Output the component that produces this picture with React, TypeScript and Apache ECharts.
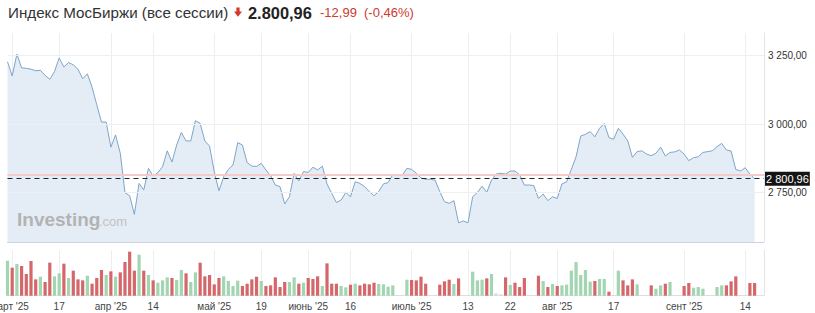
import { useEffect, useRef } from 'react';
import * as echarts from 'echarts';

// ---- Data ----
const closes: number[] = [
  3228, 3176, 3256, 3206, 3204, 3201, 3195, 3197, 3178, 3164,
  3192, 3242, 3209, 3225, 3217, 3201, 3166, 3184, 3135, 3071,
  3008, 3008, 2916, 2961, 2894, 2750, 2739, 2671, 2784, 2760,
  2839, 2811, 2823, 2845, 2903, 2862, 2924, 2970, 2939, 2939,
  3013, 3003, 2939, 2920, 2827, 2757, 2808, 2835, 2851, 2933,
  2924, 2860, 2847, 2846, 2857, 2833, 2812, 2778, 2772, 2709,
  2735, 2821, 2793, 2827, 2824, 2843, 2833, 2847, 2782, 2748,
  2714, 2723, 2751, 2735, 2790, 2784, 2772, 2754, 2739, 2754,
  2782, 2787, 2816, 2816, 2813, 2839, 2835, 2821, 2804, 2799,
  2799, 2796, 2754, 2717, 2711, 2721, 2640, 2647, 2640, 2735,
  2751, 2774, 2751, 2796, 2818, 2821, 2818, 2829, 2829, 2815,
  2778, 2778, 2776, 2729, 2745, 2721, 2735, 2729, 2782, 2790,
  2835, 2881, 2957, 2963, 2973, 2954, 2985, 3003, 2951, 2945,
  2985, 2964, 2939, 2879, 2900, 2903, 2891, 2885, 2894, 2916,
  2884, 2897, 2899, 2906, 2891, 2867, 2878, 2881, 2897, 2900,
  2903, 2918, 2930, 2906, 2902, 2835, 2829, 2841, 2818, 2800.96,
];

const volumes: number[] = [
  105, 84, 95, 89, 65, 104, 49, 57, 41, 99,
  58, 67, 96, 53, 75, 49, 46, 60, 36, 53,
  77, 62, 73, 57, 70, 101, 132, 75, 123, 75,
  62, 46, 39, 46, 55, 53, 47, 77, 67, 41,
  70, 99, 58, 62, 34, 53, 58, 44, 29, 45,
  29, 36, 49, 57, 44, 29, 31, 55, 26, 41,
  41, 55, 36, 39, 53, 50, 58, 29, 97, 36,
  36, 29, 25, 33, 36, 31, 36, 34, 39, 35,
  34, 27, 31, 2, 2, 48, 47, 46, 57, 36,
  1, 2, 33, 43, 48, 35, 52, 2, 2, 72,
  46, 48, 52, 65, 7, 4, 55, 32, 39, 26,
  53, 2, 2, 60, 44, 26, 35, 29, 31, 33,
  75, 101, 62, 77, 42, 44, 50, 50, 12, 2,
  75, 46, 31, 49, 34, 2, 2, 31, 21, 31,
  36, 41, 2, 2, 29, 38, 24, 26, 21, 2,
  2, 26, 31, 31, 43, 58, 2, 2, 38, 38,
];

// u = up (green), d = down (red), n = neutral (grey)
const volumeDir: string[] = [
  'u','d','u','d','d','d','d','u','d','d',
  'u','u','d','u','d','d','d','u','d','d',
  'd','u','d','u','d','d','d','d','u','d',
  'u','d','u','u','u','d','u','u','d','u',
  'u','d','d','d','d','d','u','u','u','u',
  'd','d','d','d','u','d','d','d','d','d',
  'u','u','d','u','d','d','d','u','d','d',
  'd','u','u','d','u','d','d','d','d','u',
  'u','u','u','n','n','u','d','d','d','d',
  'n','n','d','d','d','u','d','n','n','u',
  'u','u','d','u','n','n','d','u','d','d',
  'd','n','n','d','u','d','u','d','u','u',
  'u','u','u','u','u','d','u','u','d','n',
  'u','d','d','d','u','n','n','d','u','u',
  'd','u','n','n','d','d','u','u','u','n',
  'n','u','u','d','d','d','n','n','d','d',
];

const tickIndex: number[] = [1, 11, 22, 31, 44, 54, 64, 73, 86, 98, 107, 117, 129, 144, 157];
const tickLabels: string[] = [
  "март '25", '17', "апр '25", '14', "май '25", '19', "июнь '25", '16',
  "июль '25", '13', '22', "авг '25", '17', "сент '25", '14',
];
const yTicks: number[] = [2750, 3000, 3250];

const lastClose = 2800.96;
const prevClose = 2813.95;
const titleText = 'Индекс МосБиржи (все сессии)';
const priceText = '2.800,96';
const changeText = '-12,99';
const changePctText = '(-0,46%)';

const FONT = '"Liberation Sans", Arial, Helvetica, sans-serif';
const EXTRA_SLOTS = 2;

const fmtRu = (v: number) => {
  const [i, d] = v.toFixed(2).split('.');
  return i.replace(/\B(?=(\d{3})+(?!\d))/g, ' ') + ',' + d;
};

export default function App() {
  const ref = useRef<HTMLDivElement>(null);

  useEffect(() => {
    if (!ref.current) return;
    const chart = echarts.init(ref.current, undefined, { renderer: 'svg' });

    const categories = [
      ...closes.map((_, i) => 'd' + i),
      ...Array.from({ length: EXTRA_SLOTS }, (_, i) => 'x' + i),
    ];
    const tickMap = new Map<number, string>(tickIndex.map((t, k) => [t, tickLabels[k]]));
    const isTick = (i: number) => tickMap.has(i);
    const firstTick = tickIndex[0];

    const colorOf = (d: string) => (d === 'u' ? '#a2d5b1' : d === 'd' ? '#d4676a' : '#d9d9d9');

    const gridLeft = 7.5;
    const gridRight = 51;

    chart.setOption({
      animation: false,
      textStyle: { fontFamily: FONT },
      grid: [
        { left: gridLeft, right: gridRight, top: 33, height: 209, outerBoundsMode: 'none', containLabel: false },
        { left: gridLeft, right: gridRight, top: 250, height: 45.7, outerBoundsMode: 'none', containLabel: false },
      ],
      xAxis: [
        {
          type: 'category',
          gridIndex: 0,
          data: categories,
          boundaryGap: false,
          axisLine: { show: true, lineStyle: { color: '#c9d4df', width: 1 } },
          axisTick: { show: false },
          axisLabel: { show: false },
          splitLine: { show: true, interval: (i: number) => isTick(i), lineStyle: { color: '#eeeeee' } },
        },
        {
          type: 'category',
          gridIndex: 1,
          data: categories,
          boundaryGap: false,
          axisLine: { show: true, lineStyle: { color: '#e2e2e2', width: 1 } },
          axisTick: { show: false },
          axisLabel: {
            show: true,
            interval: (i: number) => isTick(i),
            formatter: (_v: string, i: number) => {
              const t = tickMap.get(i) ?? '';
              return i === firstTick ? `{first|${t}}` : t;
            },
            rich: {
              first: { fontSize: 10, color: '#444', fontFamily: FONT, padding: [0, 5, 0, 0] },
            },
            fontSize: 10,
            color: '#444',
            margin: 6,
            fontFamily: FONT,
            hideOverlap: false,
          },
          splitLine: { show: true, interval: (i: number) => isTick(i), lineStyle: { color: '#eeeeee' } },
        },
      ],
      yAxis: [
        {
          type: 'value',
          gridIndex: 0,
          position: 'right',
          min: 2570,
          max: 3333,
          scale: true,
          axisLine: { show: true, lineStyle: { color: '#e4e4e4' } },
          axisTick: { show: false },
          splitLine: { show: false },
          axisLabel: {
            customValues: yTicks,
            formatter: (v: number) => fmtRu(v),
            fontSize: 10,
            color: '#333',
            margin: 4,
            fontFamily: FONT,
          },
        },
        {
          type: 'value',
          gridIndex: 1,
          position: 'right',
          min: 0,
          max: 137,
          axisLine: { show: true, lineStyle: { color: '#e4e4e4' } },
          axisTick: { show: false },
          splitLine: { show: false },
          axisLabel: { show: false },
        },
      ],
      series: [
        {
          type: 'line',
          xAxisIndex: 0,
          yAxisIndex: 0,
          data: closes,
          symbol: 'none',
          lineStyle: { color: '#7ea5c8', width: 1 },
          areaStyle: { color: '#e4edf6', origin: 'start', opacity: 1 },
          z: 2,
          markLine: {
            symbol: 'none',
            silent: true,
            animation: false,
            data: [
              ...yTicks.map((t) => ({
                yAxis: t,
                lineStyle: { color: '#edf0f3', width: 1, type: 'solid' },
                label: { show: false },
              })),
              {
                yAxis: prevClose,
                lineStyle: { color: '#f5caca', width: 2, type: 'solid' },
                label: { show: false },
              },
              {
                yAxis: lastClose,
                lineStyle: { color: '#222', width: 1, type: [5, 4] },
                label: {
                  show: true,
                  position: 'end',
                  formatter: fmtRu(lastClose),
                  backgroundColor: '#141414',
                  color: '#fff',
                  fontSize: 11,
                  fontFamily: FONT,
                  padding: [2, 1, 1, 1],
                  distance: 1,
                },
              },
            ],
          },
        },
        {
          type: 'bar',
          xAxisIndex: 1,
          yAxisIndex: 1,
          barWidth: 3.2,
          data: volumes.map((v, i) => ({ value: v, itemStyle: { color: colorOf(volumeDir[i]) } })),
        },
      ],
      graphic: [
        {
          type: 'text',
          x: 8,
          y: 12,
          style: {
            text: titleText,
            font: `15.2px ${FONT}`,
            fill: '#333',
            textVerticalAlign: 'middle',
            verticalAlign: 'middle',
          },
        },
        {
          type: 'polygon',
          shape: {
            points: [
              [236.4, 7.5], [239.6, 7.5], [239.6, 11.6], [242, 11.6],
              [238, 16.8], [234, 11.6], [236.4, 11.6],
            ],
          },
          style: { fill: '#d8352b' },
        },
        {
          type: 'text',
          x: 248,
          y: 12.5,
          style: {
            text: priceText,
            font: `bold 16.4px ${FONT}`,
            fill: '#222',
            textVerticalAlign: 'middle',
            verticalAlign: 'middle',
          },
        },
        {
          type: 'text',
          x: 320,
          y: 12.5,
          style: {
            text: changeText,
            font: `13px ${FONT}`,
            fill: '#cc3b2f',
            textVerticalAlign: 'middle',
            verticalAlign: 'middle',
          },
        },
        {
          type: 'text',
          x: 364,
          y: 12.5,
          style: {
            text: changePctText,
            font: `13px ${FONT}`,
            fill: '#cc3b2f',
            textVerticalAlign: 'middle',
            verticalAlign: 'middle',
          },
        },
        {
          type: 'text',
          x: 17,
          y: 219,
          z: 10,
          style: {
            text: 'Investing',
            font: `bold 19px ${FONT}`,
            fill: '#b3b3b3',
            textVerticalAlign: 'middle',
            verticalAlign: 'middle',
          },
        },
        {
          type: 'text',
          x: 99,
          y: 221,
          z: 10,
          style: {
            text: '.com',
            font: `13px ${FONT}`,
            fill: '#c2c2c2',
            textVerticalAlign: 'middle',
            verticalAlign: 'middle',
          },
        },
      ],
    });

    return () => {
      chart.dispose();
    };
  }, []);

  return (
    <div
      ref={ref}
      style={{ position: 'absolute', left: 0, top: 0, width: 815, height: 313, background: '#fff' }}
    />
  );
}
